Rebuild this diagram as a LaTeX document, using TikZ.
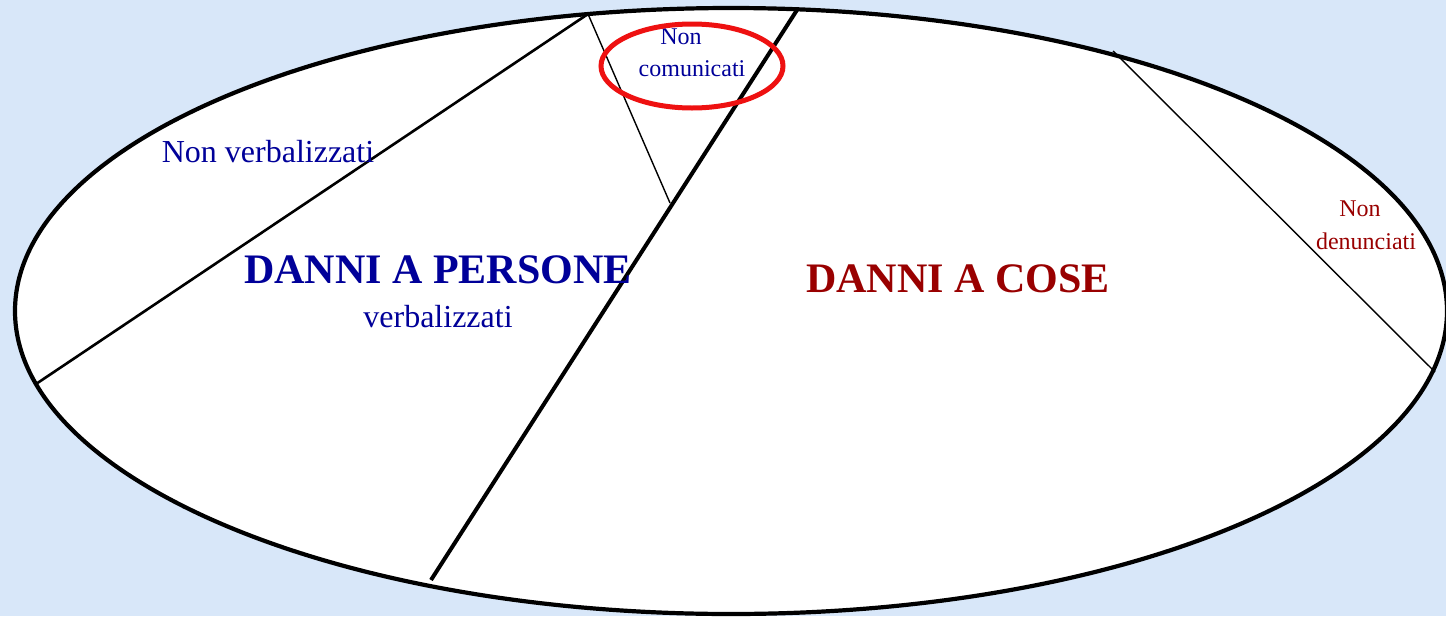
\documentclass[tikz,border=0pt]{standalone}
\usepackage{fontspec}
\setmainfont{Liberation Serif}
\definecolor{cSky}{HTML}{D8E7F9}
\definecolor{cPers}{HTML}{000099}
\definecolor{cCose}{HTML}{990000}
\definecolor{cRing}{HTML}{EE1111}
\begin{document}
\begin{tikzpicture}[
    x=0.5pt, y=-0.5pt,
    rim/.style={draw=black, line width=2.1pt, fill=white},
    cut/.style={draw=black, line width=1.3pt},
    thin/.style={draw=black, line width=0.7pt},
    heavy/.style={draw=black, line width=2pt},
    big/.style={font=\fontsize{21}{24}\selectfont\bfseries, inner sep=0pt},
    lbl/.style={font=\fontsize{16}{19}\selectfont, inner sep=0pt},
    small/.style={font=\fontsize{12}{14}\selectfont, inner sep=0pt}
]
\useasboundingbox (0,0) rectangle (1446,616);
\fill[cSky] (0,0) rectangle (1446,616);

% outer field
\draw[rim] (731,311) ellipse [x radius=358pt, y radius=151.5pt];

% split lines
\coordinate (vb_lo) at (36,384);
\coordinate (vb_hi) at (588,14);
\coordinate (nc_lo) at (670,203);
\coordinate (mid_hi) at (797,10);
\coordinate (mid_lo) at (431,580);
\coordinate (dn_hi) at (1113,51);
\coordinate (dn_lo) at (1435,372);
\draw[cut] (vb_lo) -- (vb_hi);
\draw[thin] (vb_hi) -- (nc_lo);
\draw[heavy] (mid_hi) -- (mid_lo);
\draw[thin] (dn_hi) -- (dn_lo);

% labels
\node[lbl, text=cPers] (nonverb) at (268,152) {Non verbalizzati};
\node[big, text=cPers] (pers) at (438,270) {DANNI A PERSONE};
\node[lbl, text=cPers] (verb) at (438,317) {verbalizzati};
\node[big, text=cCose] (cose) at (958,279) {DANNI A COSE};
\node[small, text=cPers] (nc1) at (681,37) {Non};
\node[small, text=cPers] (nc2) at (692,69) {comunicati};
\node[small, text=cCose] (nd1) at (1360,209) {Non};
\node[small, text=cCose] (nd2) at (1366,241) {denunciati};

% highlight
\draw[cRing, line width=2.5pt] (692,66) ellipse [x radius=45.5pt, y radius=21pt];

\end{tikzpicture}
\end{document}
